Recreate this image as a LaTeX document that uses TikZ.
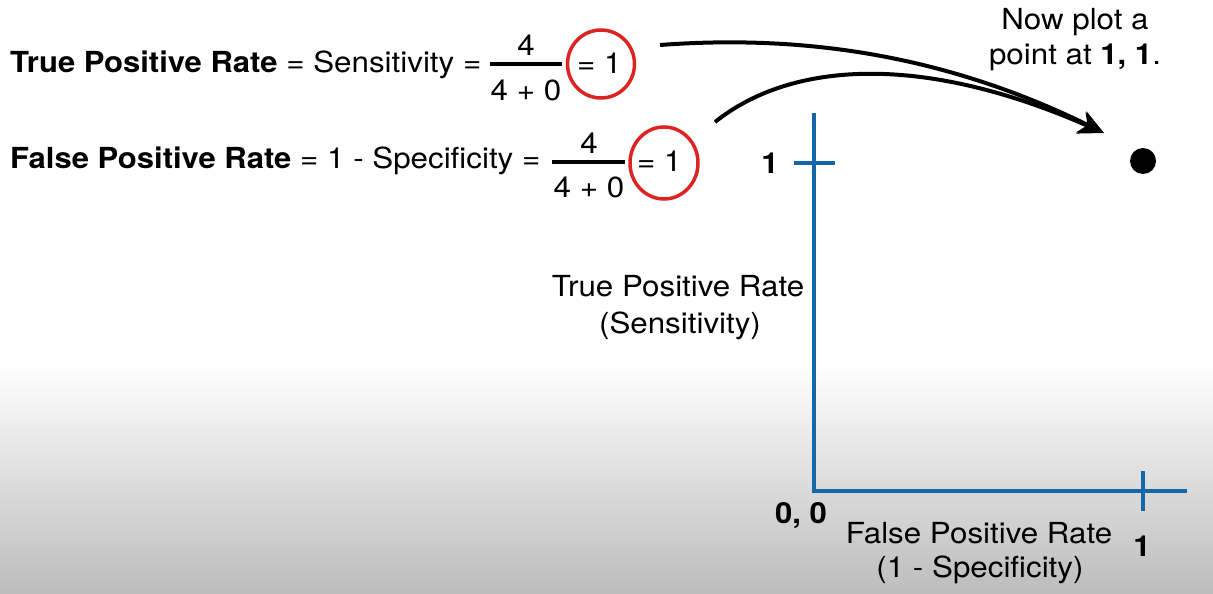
\documentclass[tikz,border=0pt]{standalone}
\usepackage{fontspec}
\setmainfont[FakeStretch=1.08]{TeX Gyre Heros}
\newfontfamily\hbold[FakeStretch=1.07]{TeX Gyre Heros}
\newcommand{\hb}[1]{{\hbold\bfseries #1}}
\usetikzlibrary{arrows.meta,shapes.geometric}
\definecolor{axisblue}{RGB}{22,103,170}
\definecolor{circred}{RGB}{222,35,35}
\definecolor{bottomgray}{RGB}{188,188,188}
\begin{document}
\begin{tikzpicture}[x=1pt,y=-1pt,
  txt/.style={inner sep=0pt,font=\fontsize{29pt}{34pt}\selectfont},
  fracbar/.style={line width=4.5pt},
  redcirc/.style={draw=circred,line width=3.5pt},
  axisline/.style={draw=axisblue,line width=4.5pt},
  curvearrow/.style={line width=4pt,-{Stealth[length=25pt,width=23pt,inset=7pt]}},
  ]
\useasboundingbox (0,0) rectangle (1213,594);
\shade[top color=white,bottom color=bottomgray] (0,365) rectangle (1213,594);
% row 1
\node[txt,anchor=base west] (tpr) at (10,73) {\hb{True Positive Rate} = Sensitivity =};
\node[txt,anchor=base] (num1) at (526,56) {4};
\node[txt,anchor=base] (den1) at (526,100) {4 + 0};
\coordinate (bar1l) at (490,64);
\coordinate (bar1r) at (562,64);
\draw[fracbar] (bar1l) -- (bar1r);
\node[txt,anchor=base west] (eq1) at (577,74) {= 1};
\node[redcirc,ellipse,minimum width=67pt,minimum height=68pt,inner sep=0pt] (circ1) at (601,64) {};
% row 2
\node[txt,anchor=base west] (fpr) at (10,168) {\hb{False Positive Rate} = 1 - Specificity =};
\node[txt,anchor=base] (num2) at (589,153) {4};
\node[txt,anchor=base] (den2) at (589,197) {4 + 0};
\coordinate (bar2l) at (552,162);
\coordinate (bar2r) at (625,162);
\draw[fracbar] (bar2l) -- (bar2r);
\node[txt,anchor=base west] (eq2) at (637,171) {= 1};
\node[redcirc,ellipse,minimum width=68pt,minimum height=72pt,inner sep=0pt] (circ2) at (664,163) {};
% note
\node[txt,anchor=base] (now1) at (1075,30) {Now plot a};
\node[txt,anchor=base] (now2) at (1075,64) {point at \hb{1, 1}.};
% axes
\coordinate (ytop) at (814,113);
\coordinate (origin) at (814,491);
\coordinate (xend) at (1187,491);
\draw[axisline,line join=miter] (ytop) -- (origin) -- (xend);
\coordinate (yt1) at (794,163);
\coordinate (yt2) at (835,163);
\draw[axisline] (yt1) -- (yt2);
\coordinate (xt1) at (1143,471);
\coordinate (xt2) at (1143,511);
\draw[axisline] (xt1) -- (xt2);
\node[txt,anchor=base] (ylab1) at (770,173) {\hb{1}};
\node[txt,anchor=base west] (olab) at (775,523) {\hb{0, 0}};
\node[txt,anchor=base] (xlab1) at (1142,556) {\hb{1}};
\node[txt,anchor=base] (ytitle1) at (678,296) {True Positive Rate};
\node[txt,anchor=base] (ytitle2) at (680,333) {(Sensitivity)};
\node[txt,anchor=base] (xtitle1) at (979,543) {False Positive Rate};
\node[txt,anchor=base] (xtitle2) at (980,577) {(1 - Specificity)};
% point
\node[circle,fill=black,minimum size=26pt,inner sep=0pt] (pt) at (1143,161) {};
% arrows
\coordinate (c1s) at (660,45);
\coordinate (c2s) at (715,122);
\coordinate (tip) at (1104,133);
\draw[curvearrow] (c1s) .. controls (820,33) and (960,62) .. (tip);
\draw[curvearrow] (c2s) .. controls (790,62) and (920,52) .. (tip);
\end{tikzpicture}
\end{document}
